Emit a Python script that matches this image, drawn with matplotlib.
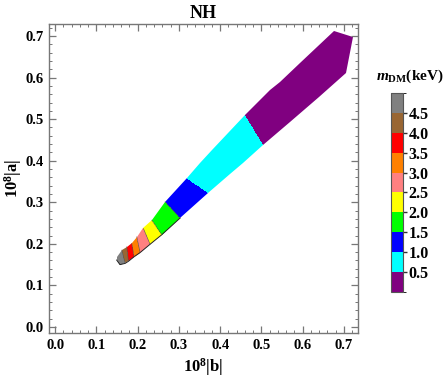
import numpy as np
import matplotlib
matplotlib.use("Agg")
import matplotlib.pyplot as plt
from matplotlib.colors import ListedColormap, BoundaryNorm
from matplotlib.patches import Polygon
from matplotlib.ticker import MultipleLocator, FormatStrFormatter

plt.rcParams['font.family'] = ['Liberation Serif', 'DejaVu Serif']
plt.rcParams['font.weight'] = 'bold'
plt.rcParams['mathtext.fontset'] = 'custom'
plt.rcParams['mathtext.rm'] = 'Liberation Serif:bold'
plt.rcParams['mathtext.it'] = 'Liberation Serif:italic:bold'
plt.rcParams['mathtext.bf'] = 'Liberation Serif:bold'

# outline of the allowed region (10^8|b|, 10^8|a|)
outline_b = [0.149, 0.157, 0.1695, 0.1775, 0.1913, 0.2058, 0.230, 0.2584, 0.3027, 0.3712,
             0.424, 0.455, 0.5044, 0.569, 0.640, 0.704, 0.721, 0.676, 0.593, 0.545, 0.521,
             0.460, 0.379, 0.351, 0.3189, 0.2663, 0.2341, 0.2138, 0.1978, 0.1857, 0.1736,
             0.1615, 0.150]
outline_a = [0.161, 0.150, 0.153, 0.158, 0.169, 0.179, 0.199, 0.222, 0.262, 0.3214,
             0.367, 0.394, 0.4375, 0.494, 0.554, 0.610, 0.698, 0.713, 0.635, 0.589, 0.570,
             0.5096, 0.425, 0.394, 0.3575, 0.301, 0.257, 0.237, 0.217, 0.201, 0.193,
             0.185, 0.169]

# colour boundaries across the band, from the tip outwards (upper point, lower point)
bnd_upper_b = [0.1615, 0.1736, 0.1857, 0.1978, 0.2138, 0.2341, 0.2663, 0.3189, 0.4600]
bnd_upper_a = [0.185, 0.193, 0.201, 0.217, 0.237, 0.257, 0.301, 0.3575, 0.5096]
bnd_lower_b = [0.1695, 0.1775, 0.1913, 0.2058, 0.2300, 0.2584, 0.3027, 0.3712, 0.5044]
bnd_lower_a = [0.153, 0.158, 0.169, 0.179, 0.199, 0.222, 0.262, 0.3214, 0.4375]

mass_edges = np.arange(0, 5.01, 0.5)
mass_ticks = [0.5, 1.0, 1.5, 2.0, 2.5, 3.0, 3.5, 4.0, 4.5]
colors = ['#800080', '#00ffff', '#0000ff', '#00ff00', '#ffff00',
          '#ff8080', '#ff8000', '#ff0000', '#996633', '#808080']

cmap = ListedColormap(colors)
norm = BoundaryNorm(mass_edges, cmap.N)

fig = plt.figure(figsize=(4.48, 3.83), dpi=100)
ax = fig.add_axes([0.1094, 0.1305, 0.6897, 0.8068])

# grid classification: count boundaries passed going away from the tip
bb, aa = np.meshgrid(np.arange(0.14, 0.73, 0.001), np.arange(0.14, 0.72, 0.001))
count = np.zeros_like(bb, dtype=int)
for ub, ua, lb, la in zip(bnd_upper_b, bnd_upper_a, bnd_lower_b, bnd_lower_a):
    dx, dy = ub - lb, ua - la
    cross = dx * (aa - la) - dy * (bb - lb)
    count += (cross < 0).astype(int)
mass_bin = len(colors) - 1 - count
mass = mass_edges[mass_bin] + 0.25

im = ax.pcolormesh(bb, aa, mass, cmap=cmap, norm=norm, shading='nearest', rasterized=True)
patch = Polygon(np.column_stack([outline_b, outline_a]), closed=True,
                facecolor='none', edgecolor='none', transform=ax.transData)
ax.add_patch(patch)
im.set_clip_path(patch)

# thin dark edges near the tip
ax.plot(outline_b[:9], outline_a[:9], color='#222222', lw=0.7)
for i in range(7):
    ax.plot([bnd_upper_b[i], bnd_lower_b[i]], [bnd_upper_a[i], bnd_lower_a[i]],
            color='#555555', lw=0.4)

ax.set_xlim(-0.015, 0.734)
ax.set_ylim(-0.0145, 0.7288)
ax.xaxis.set_major_locator(MultipleLocator(0.1))
ax.xaxis.set_minor_locator(MultipleLocator(0.02))
ax.yaxis.set_major_locator(MultipleLocator(0.1))
ax.yaxis.set_minor_locator(MultipleLocator(0.02))
ax.xaxis.set_major_formatter(FormatStrFormatter('%.1f'))
ax.yaxis.set_major_formatter(FormatStrFormatter('%.1f'))
ax.tick_params(which='both', direction='in', top=True, right=True, color='#777777',
               labelsize=10.5, pad=4)
ax.tick_params(which='major', length=5, width=0.9)
ax.tick_params(which='minor', length=2.5, width=0.7)
for sp in ax.spines.values():
    sp.set_color('#777777')
    sp.set_linewidth(1.0)

ax.set_title('NH', fontsize=13, fontweight='bold', pad=4)
ax.set_xlabel(r'$10^8$|b|', fontsize=12, fontweight='bold', labelpad=3)
ax.set_ylabel(r'$10^8$|a|', fontsize=12, fontweight='bold', labelpad=1)

# legend bar
cax = fig.add_axes([0.8728, 0.2376, 0.0268, 0.5196])
cb = fig.colorbar(plt.cm.ScalarMappable(norm=norm, cmap=cmap), cax=cax,
                  boundaries=mass_edges, ticks=mass_ticks)
cb.ax.set_yticklabels(['%.1f' % t for t in mass_ticks])
cb.ax.tick_params(labelsize=11.5, length=3, width=1, color='#333333', pad=1)
cb.outline.set_edgecolor('#555555')
cb.outline.set_linewidth(0.8)
fig.text(0.915, 0.80, r'$m_{\rm DM}$(keV)', fontsize=11, fontweight='bold',
         ha='center', va='center')

fig.savefig('out.png', dpi=100)
